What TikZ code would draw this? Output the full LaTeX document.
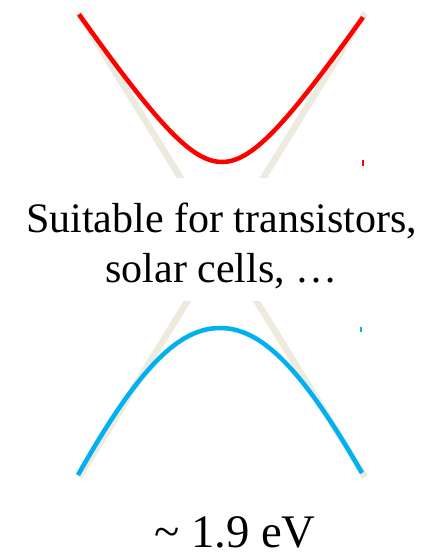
\documentclass[tikz,border=0pt]{standalone}
\usepackage{fontspec}
\setmainfont{Liberation Serif}
\usepackage{tikz}
\usetikzlibrary{calc}
\definecolor{cone}{HTML}{EDEBE0}
\definecolor{cband}{HTML}{FF0000}
\definecolor{vband}{HTML}{00B0F0}
\tikzset{asym/.style={cone,line width=5pt},band/.style={line width=3.4pt},tick/.style={line width=1.1pt},bigtext/.style={font=\fontsize{31.5}{36}\selectfont,inner sep=0pt}}

\begin{document}
\begin{tikzpicture}[x=0.75pt,y=-0.75pt]
\useasboundingbox (0,0) rectangle (436,557);
\coordinate (dirac) at (222,245);
% cone asymptotes, cut out where the text sits
\begin{scope}
\clip (0,0) rectangle (436,178) (0,301) rectangle (436,557);
\draw[asym] (79,13)--(dirac)--(365,477);
\draw[asym] (365,13)--(dirac)--(79,477);
\end{scope}
% conduction band
\draw[band,cband] plot[domain=-143:141,samples=80,smooth] ({222+\x},{244-10*sqrt(67.24+2.25*(\x/10)*(\x/10))});
% valence band
\coordinate (vl) at (78,475);\coordinate (vt) at (220,328);\coordinate (vr) at (362,473);
\draw[band,vband] (vl) .. controls (140,365) and (180,328) .. (vt) .. controls (260,328) and (300,365) .. (vr);
\draw[tick,cband] (363,160)--(363,166);
\draw[tick,vband] (361,327)--(361,332);
\node[bigtext,anchor=base] (use1) at (221.5,232) {Suitable for transistors,};
\node[bigtext,anchor=base] (use2) at (221.5,282) {solar cells, …};
\node[bigtext,anchor=base,font=\fontsize{35}{40}\selectfont] (gap) at (235,547) {\textasciitilde{} 1.9 eV};
\end{tikzpicture}
\end{document}
